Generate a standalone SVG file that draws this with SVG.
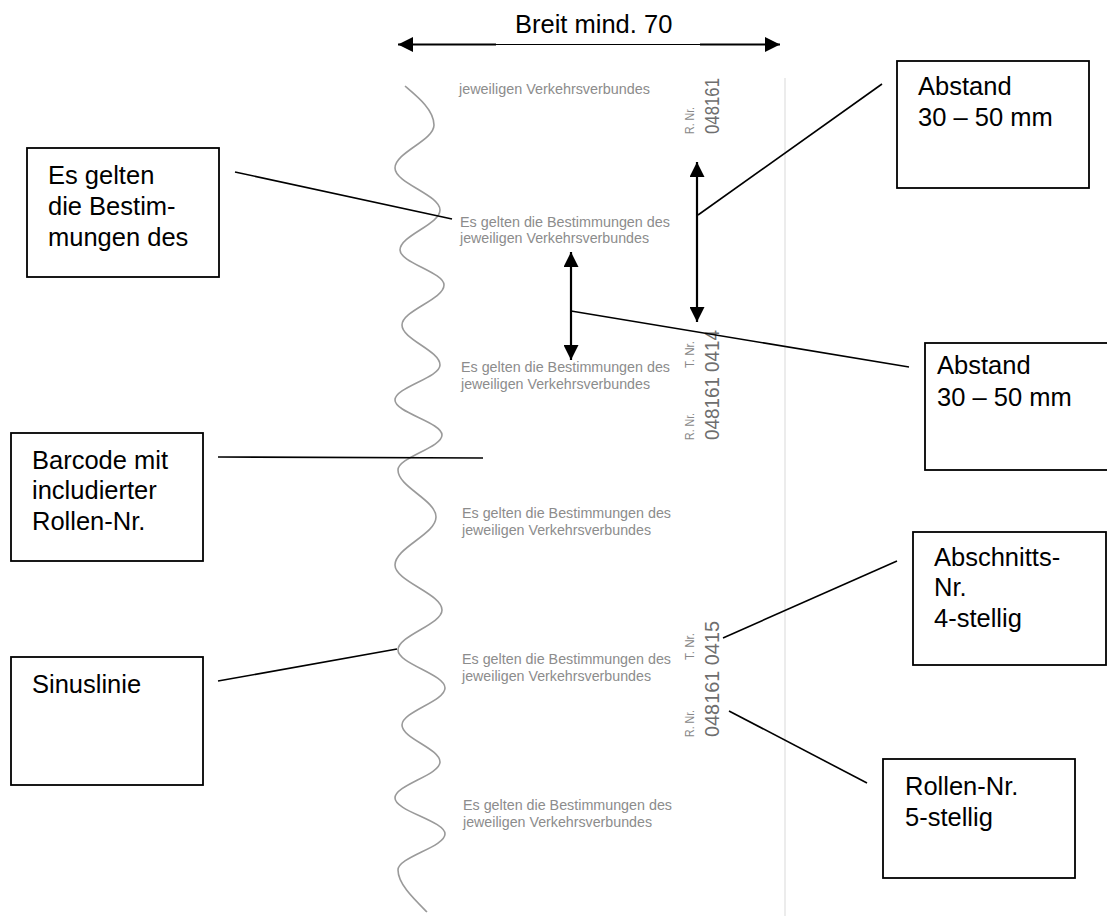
<svg xmlns="http://www.w3.org/2000/svg" width="1107" height="916" viewBox="0 0 1107 916">
<style>
.box{fill:#fff;stroke:#000;stroke-width:1.8}
.lbl{font-family:"Liberation Sans",Arial,sans-serif;font-size:25.5px;fill:#000}
.ln{stroke:#000;stroke-width:1.6;fill:none}
.arr{stroke:#000;stroke-width:2.2;fill:none}
.gt{font-family:"Liberation Sans",Arial,sans-serif;font-size:14.2px;fill:#8c8c8c}
.nr{font-family:"Liberation Sans",Arial,sans-serif;font-size:12px;fill:#888}
.num{font-family:"Liberation Sans Narrow","Liberation Sans",Arial,sans-serif;font-size:21px;fill:#6e6e6e}
</style>
<defs>
<marker id="ah" viewBox="0 0 10 10" refX="10" refY="5" markerWidth="15" markerHeight="15" markerUnits="userSpaceOnUse" orient="auto-start-reverse"><path d="M0,0 L10,5 L0,10 z" fill="#000"/></marker>
</defs>
<rect width="1107" height="916" fill="#fff"/>

<g id="strip">
<line x1="785" y1="78" x2="785" y2="916" stroke="#ececec" stroke-width="2"/>
<path id="sinus" fill="none" stroke="#9a9a9a" stroke-width="1.6" d="M405,86 C418,97 434,110 434,125 C434,140.6 395,152.4 395,168 C395,183.2 440,194.8 440,210 C440,224.5 400,235.5 400,250 C400,262.7 444,272.3 444,285 C444,299.5 402,310.5 402,325 C402,339.5 440,350.5 440,365 C440,377.7 395,387.3 395,400 C395,412.7 442,422.3 442,435 C442,447.7 398,457.3 398,470 C398,487.1 436,499.9 436,517 C436,534.4 395,547.6 395,565 C395,581.3 442,593.7 442,610 C442,624.5 398,635.5 398,650 C398,663.8 445,674.2 445,688 C445,701.4 402,711.6 402,725 C402,738.4 440,748.6 440,762 C440,775.1 395,784.9 395,798 C395,811.1 445,820.9 445,834 C445,847.1 398,856.9 398,870 C398,884 414,899 427,912"/>
<text class="gt" x="459" y="94" textLength="191" lengthAdjust="spacingAndGlyphs">jeweiligen Verkehrsverbundes</text>
<text class="gt" x="460" y="227" textLength="210" lengthAdjust="spacingAndGlyphs">Es gelten die Bestimmungen des</text>
<text class="gt" x="460" y="243" textLength="189" lengthAdjust="spacingAndGlyphs">jeweiligen Verkehrsverbundes</text>
<text class="gt" x="461" y="372" textLength="209" lengthAdjust="spacingAndGlyphs">Es gelten die Bestimmungen des</text>
<text class="gt" x="461" y="389" textLength="189" lengthAdjust="spacingAndGlyphs">jeweiligen Verkehrsverbundes</text>
<text class="gt" x="462" y="518" textLength="209" lengthAdjust="spacingAndGlyphs">Es gelten die Bestimmungen des</text>
<text class="gt" x="462" y="535" textLength="189" lengthAdjust="spacingAndGlyphs">jeweiligen Verkehrsverbundes</text>
<text class="gt" x="462" y="664" textLength="209" lengthAdjust="spacingAndGlyphs">Es gelten die Bestimmungen des</text>
<text class="gt" x="462" y="681" textLength="189" lengthAdjust="spacingAndGlyphs">jeweiligen Verkehrsverbundes</text>
<text class="gt" x="463" y="810" textLength="209" lengthAdjust="spacingAndGlyphs">Es gelten die Bestimmungen des</text>
<text class="gt" x="463" y="827" textLength="189" lengthAdjust="spacingAndGlyphs">jeweiligen Verkehrsverbundes</text>
<text class="nr" transform="translate(694,134) rotate(-90)" textLength="27" lengthAdjust="spacingAndGlyphs">R. Nr.</text>
<text class="num" transform="translate(719,134) rotate(-90)" textLength="56" lengthAdjust="spacingAndGlyphs">048161</text>
<text class="nr" transform="translate(694,368) rotate(-90)" textLength="27" lengthAdjust="spacingAndGlyphs">T. Nr.</text>
<text class="nr" transform="translate(694,440) rotate(-90)" textLength="27" lengthAdjust="spacingAndGlyphs">R. Nr.</text>
<text class="num" transform="translate(719,440) rotate(-90)" textLength="110" lengthAdjust="spacingAndGlyphs">048161 0414</text>
<text class="nr" transform="translate(694,660) rotate(-90)" textLength="27" lengthAdjust="spacingAndGlyphs">T. Nr.</text>
<text class="nr" transform="translate(694,737) rotate(-90)" textLength="27" lengthAdjust="spacingAndGlyphs">R. Nr.</text>
<text class="num" transform="translate(719,737) rotate(-90)" textLength="116" lengthAdjust="spacingAndGlyphs">048161 0415</text>
</g>

<g id="connectors">
<line class="arr" x1="496" y1="44.5" x2="398" y2="44.5" marker-end="url(#ah)"/>
<line x1="496" y1="44.5" x2="700" y2="44.5" stroke="#000" stroke-width="1.2"/>
<line class="arr" x1="700" y1="44.5" x2="780" y2="44.5" marker-end="url(#ah)"/>
<line class="arr" x1="697" y1="162" x2="697" y2="322" marker-start="url(#ah)" marker-end="url(#ah)"/>
<line class="arr" x1="571" y1="252" x2="571" y2="360" marker-start="url(#ah)" marker-end="url(#ah)"/>
<line class="ln" x1="235" y1="172" x2="452" y2="219"/>
<line class="ln" x1="882" y1="84" x2="698" y2="215"/>
<line class="ln" x1="909" y1="367" x2="571" y2="311"/>
<line class="ln" x1="218" y1="457" x2="483" y2="458"/>
<line class="ln" x1="218" y1="681" x2="397" y2="649"/>
<line class="ln" x1="897" y1="561" x2="723" y2="638"/>
<line class="ln" x1="867" y1="783" x2="729" y2="711"/>
</g>

<g id="breit">
<text class="lbl" x="515" y="33">Breit mind. 70</text>
</g>
<g id="box-bestimmungen">
<rect class="box" x="27" y="148" width="192" height="129"/>
<text class="lbl" x="48" y="184">Es gelten</text>
<text class="lbl" x="48" y="215">die Bestim-</text>
<text class="lbl" x="48" y="246">mungen des</text>
</g>
<g id="box-abstand1">
<rect class="box" x="897" y="61" width="192" height="127"/>
<text class="lbl" x="918" y="95">Abstand</text>
<text class="lbl" x="918" y="126">30 – 50 mm</text>
</g>
<g id="box-abstand2">
<rect class="box" x="925" y="343" width="200" height="127"/>
<text class="lbl" x="937" y="374">Abstand</text>
<text class="lbl" x="937" y="406">30 – 50 mm</text>
</g>
<g id="box-barcode">
<rect class="box" x="11" y="433" width="192" height="128"/>
<text class="lbl" x="32" y="469">Barcode mit</text>
<text class="lbl" x="32" y="499">includierter</text>
<text class="lbl" x="32" y="530">Rollen-Nr.</text>
</g>
<g id="box-sinus">
<rect class="box" x="11" y="657" width="192" height="128"/>
<text class="lbl" x="32" y="693">Sinuslinie</text>
</g>
<g id="box-abschnitt">
<rect class="box" x="913" y="532" width="193" height="133"/>
<text class="lbl" x="934" y="566">Abschnitts-</text>
<text class="lbl" x="934" y="596">Nr.</text>
<text class="lbl" x="934" y="627">4-stellig</text>
</g>
<g id="box-rollen">
<rect class="box" x="883" y="759" width="192" height="119"/>
<text class="lbl" x="905" y="795">Rollen-Nr.</text>
<text class="lbl" x="905" y="826">5-stellig</text>
</g>
</svg>
